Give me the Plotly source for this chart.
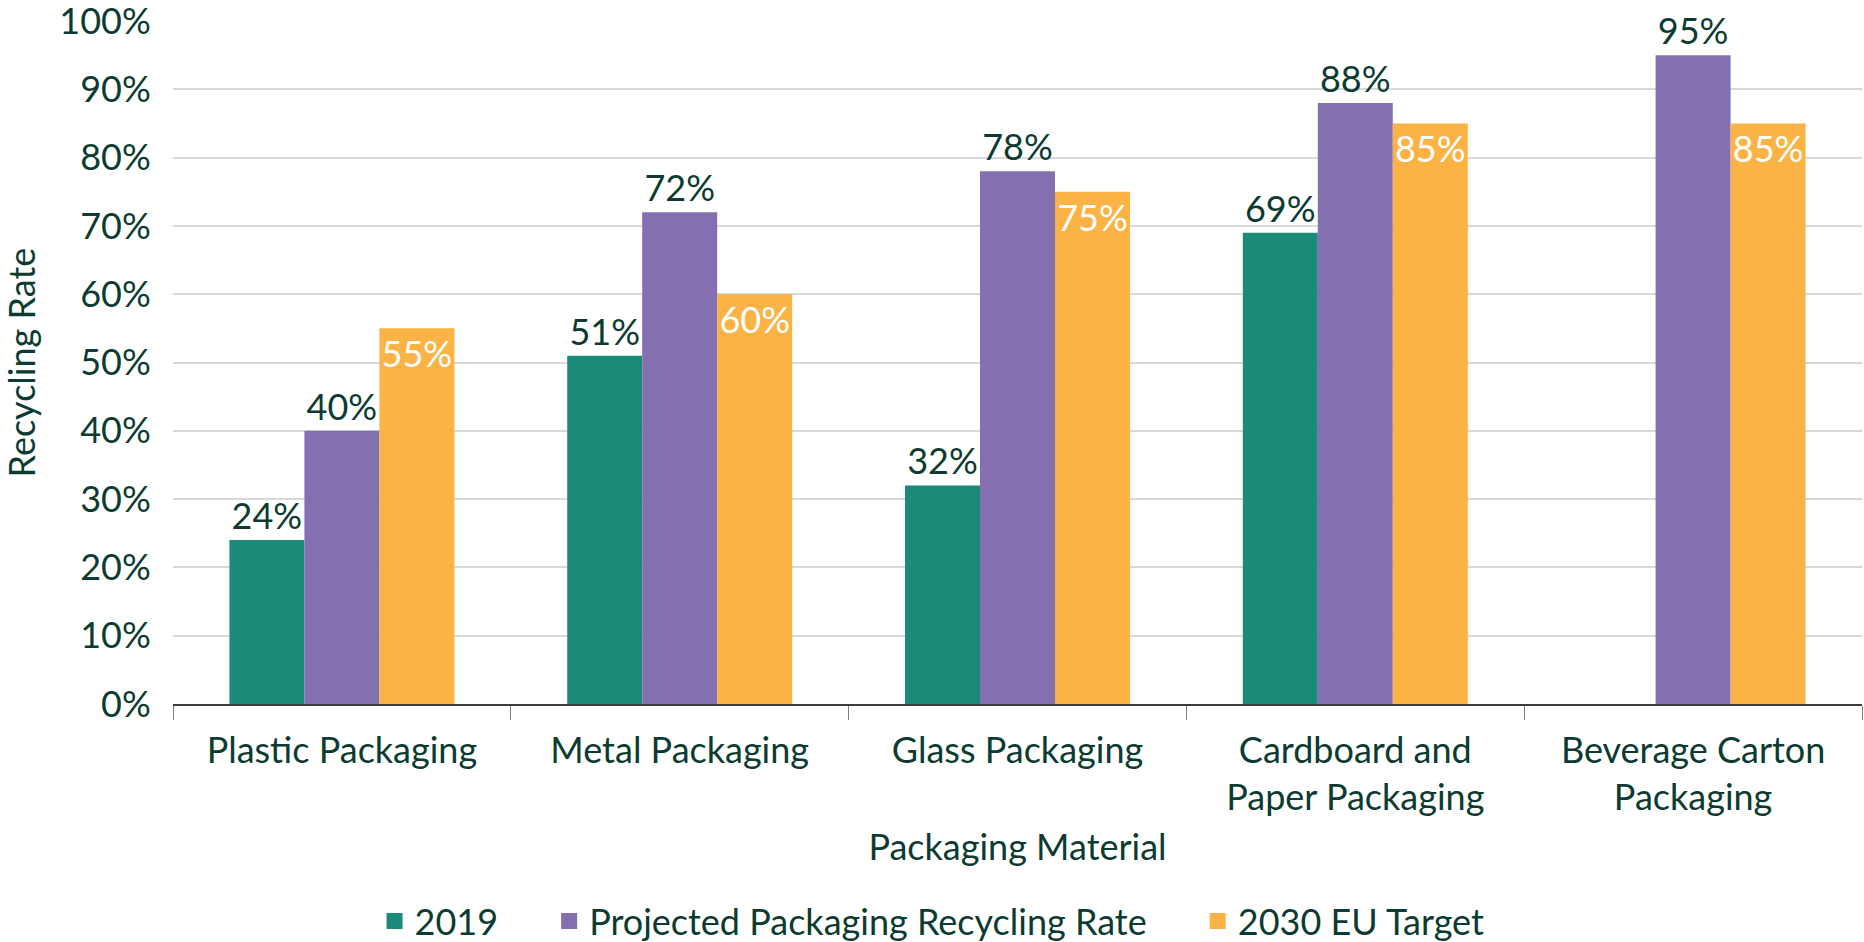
import plotly.graph_objects as go

categories = ["Plastic Packaging", "Metal Packaging", "Glass Packaging",
              "Cardboard and<br>Paper Packaging", "Beverage Carton<br>Packaging"]
vals_2019 = [0.24, 0.51, 0.32, 0.69, None]
vals_projected = [0.40, 0.72, 0.78, 0.88, 0.95]
vals_target = [0.55, 0.60, 0.75, 0.85, 0.85]
series_names = ["2019", "Projected Packaging Recycling Rate", "2030 EU Target"]
series_colors = ["#1b8a78", "#8470b0", "#fbb346"]

TXT = "#0b3b31"
FONT = "Lato"
FS = 36

fig = go.Figure()
fig.add_trace(go.Bar(x=categories, y=vals_2019, name=series_names[0],
                     marker=dict(color=series_colors[0], line=dict(width=0)),
                     text=[None if v is None else f"{v:.0%}" for v in vals_2019],
                     textposition="outside", textangle=0, constraintext="none",
                     textfont=dict(color=TXT, size=FS, family=FONT),
                     cliponaxis=False, showlegend=False))
fig.add_trace(go.Bar(x=categories, y=vals_projected, name=series_names[1],
                     marker=dict(color=series_colors[1], line=dict(width=0)),
                     text=[f"{v:.0%}" for v in vals_projected],
                     textposition="outside", textangle=0, constraintext="none",
                     textfont=dict(color=TXT, size=FS, family=FONT),
                     cliponaxis=False, showlegend=False))
fig.add_trace(go.Bar(x=categories, y=vals_target, name=series_names[2],
                     marker=dict(color=series_colors[2], line=dict(width=0)),
                     text=[f"{v:.0%}" for v in vals_target],
                     textposition="inside", insidetextanchor="end",
                     textangle=0, constraintext="none",
                     textfont=dict(color="white", size=FS, family=FONT),
                     cliponaxis=False, showlegend=False))

# legend entries with larger square swatches
pad = ["     ", "     ", ""]
for name, col, p in zip(series_names, series_colors, pad):
    fig.add_trace(go.Scatter(x=[None], y=[None], mode="markers", name=name + p,
                             marker=dict(symbol="square", size=20, color=col),
                             showlegend=True, hoverinfo="skip"))

fig.add_annotation(text="Recycling Rate", textangle=-90, xref="paper", yref="paper",
                   x=-0.090, y=0.5, xanchor="center", yanchor="middle", showarrow=False,
                   font=dict(size=FS, color=TXT, family=FONT))

fig.update_layout(
    width=1864, height=942,
    paper_bgcolor="white", plot_bgcolor="white",
    font=dict(family=FONT, size=FS, color=TXT),
    barmode="group", bargap=0.334, bargroupgap=0,
    margin=dict(l=173, r=2, t=21, b=238, autoexpand=False),
    showlegend=True,
    legend=dict(orientation="h", x=0.4494, xanchor="center", y=-0.318, yanchor="middle",
                font=dict(size=FS, color=TXT, family=FONT), itemwidth=30,
                traceorder="normal", itemsizing="trace"),
    xaxis=dict(
        title=dict(text="Packaging Material", font=dict(size=FS, color=TXT), standoff=18),
        showline=True, linecolor="#3c3c3c", linewidth=1.5,
        ticks="outside", tickson="boundaries", ticklen=14, tickcolor="#7f7f7f",
        ticklabelstandoff=14,
        tickfont=dict(size=FS, color=TXT), showgrid=False, automargin=False,
    ),
    yaxis=dict(
        range=[0, 1], dtick=0.1, tickformat=".0%",
        showgrid=True, gridcolor="#d9d9d9", gridwidth=1.5,
        zeroline=False, showline=False,
        ticks="outside", ticklen=14, tickcolor="rgba(0,0,0,0)",
        ticklabeloverflow="allow",
        tickfont=dict(size=FS, color=TXT), automargin=False,
    ),
)

fig.write_html("out.html", config={"displayModeBar": False},
               post_script="document.body.style.margin='0';")
